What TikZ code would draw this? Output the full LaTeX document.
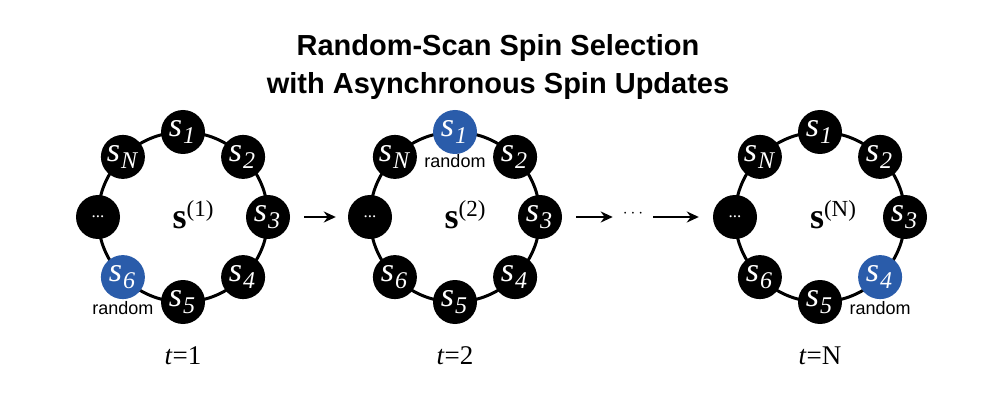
\documentclass[tikz,border=0pt]{standalone}
\usepackage{fontspec}
\setmainfont{Liberation Serif}
\setsansfont{Liberation Sans}
\usetikzlibrary{arrows.meta,positioning}
\definecolor{spinblue}{HTML}{2A5CAA}
\tikzset{
 spin/.style={circle,fill=black,text=white,minimum size=44pt,inner sep=0pt,font=\fontsize{34}{34}\selectfont},
 sel/.style={spin,fill=spinblue},
 ring/.style={line width=3pt},
 rnd/.style={font=\sffamily\fontsize{18}{19}\selectfont},
 tlab/.style={font=\fontsize{27}{28}\selectfont},
 ctr/.style={font=\bfseries\fontsize{36}{36}\selectfont},
 arr/.style={-{Stealth[length=12pt,width=11pt]},line width=2.4pt}
}
\newcommand{\spn}[1]{\itshape s\kern1pt\raisebox{-7pt}{\fontsize{24}{24}\selectfont #1}\kern2pt}
\newcommand{\ctrtext}[1]{s\raisebox{12pt}{\mdseries\fontsize{23}{23}\selectfont(#1)}}
\newcommand{\ringof}[3]{%
 \begin{scope}[shift={(#1,217)}]
 \draw[ring] (0,0) circle (85);
 \foreach \a/\lab/\i in {90/1/1,45/2/2,0/3/3,-45/4/4,-90/5/5,-135/6/6,135/N/8}{
   \ifnum\i=#3\relax
     \node[sel] (n#2-\i) at (-\a:85) {\spn{\lab}};
   \else
     \node[spin] (n#2-\i) at (-\a:85) {\spn{\lab}};
   \fi
 }
 \node[spin,font=\fontsize{17}{17}\selectfont] (n#2-7) at (180:85) {...};
 \end{scope}}
\begin{document}
\begin{tikzpicture}[x=1pt,y=1pt]
\useasboundingbox (0,-406) rectangle (996,0);
\begin{scope}[y=-1pt]
\node[font=\sffamily\bfseries\fontsize{29}{38}\selectfont,align=center] (title) at (498,67) {Random-Scan Spin Selection\\with Asynchronous Spin Updates};
\ringof{183}{a}{6}
\ringof{455}{b}{1}
\ringof{820}{c}{4}
\node[ctr] (ca) at (193,215) {\ctrtext{1}};
\node[ctr] (cb) at (465,215) {\ctrtext{2}};
\node[ctr] (cc) at (833,215) {\ctrtext{N}};
\node[rnd,below=-1pt of na-6] (ra) {random};
\node[rnd,below=-3pt of nb-1] (rb) {random};
\node[rnd,below=-1pt of nc-4] (rc) {random};
\node[tlab] (ta) at (183,356) {\textit{t}=1};
\node[tlab] (tb) at (455,356) {\textit{t}=2};
\node[tlab] (tc) at (820,356) {\textit{t}=N};
\node[font=\fontsize{18}{18}\selectfont,inner sep=2pt] (dots) at (633,214) {$\cdots$};
\draw[arr] ([xshift=14pt]na-3.east) -- ([xshift=-12pt]nb-7.west);
\draw[arr] ([xshift=14pt]nb-3.east) -- ([xshift=-8pt]dots.west |- nb-3.east);
\draw[arr] ([xshift=8pt]dots.east |- nb-3.east) -- ([xshift=-14pt]nc-7.west);
\end{scope}
\end{tikzpicture}
\end{document}
